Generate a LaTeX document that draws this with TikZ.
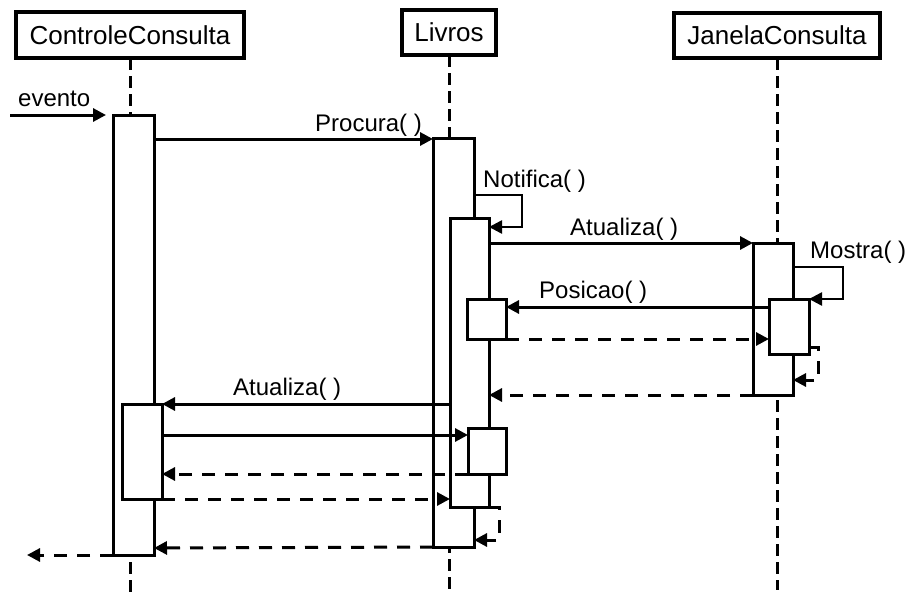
\documentclass[tikz,border=0pt]{standalone}
\usepackage{fontspec}
\setmainfont{Liberation Sans}
\usetikzlibrary{arrows.meta, positioning}

\begin{document}
\begin{tikzpicture}[x=1pt, y=-1pt,
    obj/.style={draw, line width=3.5pt, inner sep=0pt, outer sep=0pt, font=\fontsize{26}{30}\selectfont},
    actbar/.style={draw, fill=white, line width=3pt, inner sep=0pt, outer sep=0pt, anchor=north west},
    life/.style={line width=3pt, dash pattern=on 12pt off 6pt},
    msg/.style={line width=3pt, -{Triangle[length=13pt,width=13pt]}},
    reply/.style={msg, dash pattern=on 13pt off 10pt},
    loopmsg/.style={msg, line width=2.5pt},
    lbl/.style={font=\fontsize{24}{28}\selectfont, inner sep=0pt, anchor=base west}]
    \useasboundingbox (0,0) rectangle (914,608);

    % Objects
    \node[obj, minimum width=228pt, minimum height=46pt] (cc) at (130,35) {ControleConsulta};
    \node[obj, minimum width=94pt, minimum height=45pt] (lv) at (449,32.5) {Livros};
    \node[obj, minimum width=206pt, minimum height=45pt] (jc) at (777,35.5) {JanelaConsulta};

    % Lifelines
    \draw[life] (cc.south) -- (cc.south |- 0,597);
    \draw[life] (lv.south) -- (lv.south |- 0,590);
    \draw[life] (jc.south) -- (jc.south |- 0,590);

    % Activation bars
    \node[actbar, minimum width=41pt, minimum height=440pt] (ccA) at (113,115) {};
    \node[actbar, minimum width=40pt, minimum height=95pt] (ccB) at (122,404) {};
    \node[actbar, minimum width=41pt, minimum height=409pt] (lvA) at (433,138) {};
    \node[actbar, minimum width=39pt, minimum height=289pt] (lvB) at (450,218) {};
    \node[actbar, minimum width=39pt, minimum height=40pt] (lvC) at (467,299) {};
    \node[actbar, minimum width=38pt, minimum height=46pt] (lvD) at (468,428) {};
    \node[actbar, minimum width=40pt, minimum height=152pt] (jcA) at (753,243) {};
    \node[actbar, minimum width=40pt, minimum height=55pt] (jcB) at (769,299) {};

    % Messages
    \coordinate (in) at (10,115);
    \coordinate (out) at (27,555);
    \draw[msg] (in) -- ([xshift=-7pt]ccA.north west);
    \node[lbl] (evLbl) at (18,106) {evento};

    \draw[msg] (ccA.east |- 0,139) -- (lvA.west |- 0,139);
    \node[lbl] (procLbl) at (315,131) {Procura( )};

    \draw[loopmsg] (lvA.east |- 0,195) -- ++(48,0) |- (lvB.east |- 0,227);
    \node[lbl] (notLbl) at (483,187) {Notifica( )};

    \draw[msg] (lvB.east |- 0,243) -- (jcA.north west);
    \node[lbl] (atuLbl) at (570,235) {Atualiza( )};

    \draw[loopmsg] (jcA.east |- 0,267) -- ++(50,0) |- (jcB.north east);
    \node[lbl] (mosLbl) at (810,258) {Mostra( )};

    \draw[msg] (jcB.west |- 0,307) -- (lvC.east |- 0,307);
    \node[lbl] (posLbl) at (539,298) {Posicao( )};

    \draw[reply] (lvC.south east) -- (jcB.west |- lvC.south east);
    \draw[reply] (jcB.east |- 0,347) -- ++(9,0) |- (jcA.east |- 0,380);
    \draw[reply] (jcA.south west) -- (lvB.east |- jcA.south west);

    \draw[msg] (lvB.west |- ccB.north east) -- (ccB.north east);
    \node[lbl] (atuLblB) at (233,395) {Atualiza( )};

    \draw[msg] (ccB.east |- 0,435) -- (lvD.west |- 0,435);
    \draw[reply] (lvD.south west) -- (ccB.east |- lvD.south west);
    \draw[reply] (ccB.south east) -- (lvB.west |- ccB.south east);
    \draw[reply] (lvB.south east) -- ++(10,0) |- (lvA.east |- 0,540);
    \draw[reply] (lvA.south west) -- (ccA.east |- 0,548);
    \draw[reply] (ccA.south west) -- (out);
\end{tikzpicture}
\end{document}
